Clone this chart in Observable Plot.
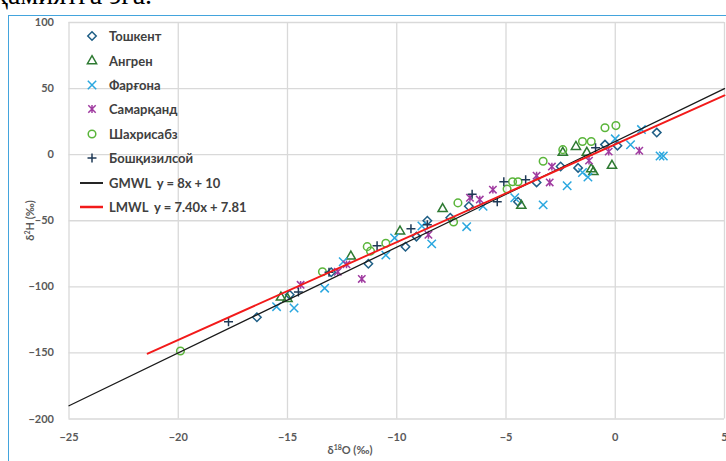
<!DOCTYPE html>
<html><head><meta charset="utf-8">
<script src="https://cdn.jsdelivr.net/npm/d3@7"></script>
<script src="https://cdn.jsdelivr.net/npm/@observablehq/plot@0.6"></script>
<style>
body{margin:0;width:726px;height:461px;overflow:hidden;position:relative;background:#fff;font-family:Lato,"Open Sans",sans-serif}
#doc{position:absolute;left:0;top:0;width:726px;height:11px;overflow:hidden}
#doc span{position:absolute;left:-6px;top:-21px;font:28px "Liberation Serif","DejaVu Serif",serif;color:#000;white-space:nowrap}
#frame{position:absolute;left:8px;top:15px;width:730px;height:460px;border-left:1.5px solid #43a4dd;border-top:1.5px solid #43a4dd}
#chart{position:absolute;left:0;top:0}
#legend{position:absolute;left:76px;top:24px}
.row{display:flex;align-items:center;height:24.4px}
.row svg{width:28px;height:20px;margin-right:5px;overflow:visible}
.row span{font-weight:700;font-size:13px;color:#404040;white-space:pre}
.xt{position:absolute;left:300px;width:100px;top:443px;text-align:center;font-weight:700;font-size:11px;color:#595959}
.yt{position:absolute;left:-21px;top:214px;width:100px;text-align:center;font-weight:700;font-size:11px;color:#595959;transform:rotate(-90deg);transform-origin:50% 50%}
sup{font-size:7px;vertical-align:4px}
</style></head>
<body>
<div id="doc"><span>ҳамиятга эга.</span></div>
<div id="chart"></div>
<div id="frame"></div>
<div id="legend"></div>
<div class="xt">δ<sup>18</sup>O (‰)</div>
<div class="yt">δ<sup>2</sup>H (‰)</div>
<script>
// ---- data (δ18O, δ2H) ----
const sites = ["Тошкент","Ангрен","Фарғона","Самарқанд","Шахрисабз","Бошқизилсой"];
const siteColors = ["#1f5f86","#2e7a32","#2aa7df","#a03ba0","#5ab53a","#1f3a57"];
const siteSymbolNames = ["diamond2","triangle2","times","star","circle","plus"];
const siteRadius = [3.8, 4.4, 3.9, 3.9, 3.8, 3.0];

const tashkent = [[-16.4,-123],[-14.9,-106],[-13.0,-89],[-11.3,-82.6],[-9.6,-69.7],[-9.1,-62],[-8.6,-50],[-7.55,-47.7],[-6.7,-39],[-4.45,-35.6],[-3.6,-21],[-2.5,-9],[-1.7,-10],[-0.47,7.6],[0.1,6.8],[1.9,16.7]];
const angren = [[-15.3,-108],[-15.0,-109],[-12.1,-77],[-9.85,-58],[-7.9,-41],[-4.3,-38.6],[-2.4,1.5],[-1.8,6],[-1.3,1.5],[-1.1,-11],[-1.0,-13],[-0.15,-8.3]];
const fargona = [[-15.5,-115],[-14.7,-116],[-13.3,-101],[-12.45,-81],[-10.5,-76],[-10.1,-63],[-8.85,-54],[-8.4,-67.5],[-6.8,-54.5],[-6.05,-39],[-4.6,-32.6],[-3.3,-38],[-2.2,-23.5],[-1.5,-13.5],[-1.25,-17],[0.0,12],[0.7,7.5],[1.2,19],[2.05,-1],[2.2,-1]];
const samarqand = [[-14.4,-98.5],[-12.7,-88.6],[-12.3,-83],[-11.6,-94],[-8.55,-60.6],[-6.65,-32.6],[-6.2,-34],[-5.6,-26.5],[-3.6,-15.9],[-3.0,-21],[-2.9,-9],[-1.2,-4.5],[-0.3,2.3],[1.1,3]];
const shahrisabz = [[-19.9,-148.5],[-13.4,-88.6],[-11.35,-69.6],[-11.2,-73],[-10.5,-67],[-7.4,-51],[-7.2,-36.5],[-4.95,-26],[-4.7,-20.5],[-4.45,-20.5],[-3.3,-5],[-2.4,3.8],[-1.5,10],[-1.1,10],[-0.47,20.4],[0.03,22]];
const boshqizilsoy = [[-17.7,-126.5],[-14.5,-104],[-13.1,-89],[-10.9,-69],[-9.35,-56],[-8.6,-53],[-6.55,-30],[-5.4,-35.6],[-5.1,-20.5],[-4.1,-19],[-0.9,5.3]];

// meteoric water lines: slope, intercept, x-range
const gmwl = {label:"GMWL  y = 8x + 10", slope:8, intercept:10, xRange:[-25,5], color:"#1a1a1a", width:1.3};
const lmwl = {label:"LMWL  y = 7.40x + 7.81", slope:7.40, intercept:7.81, xRange:[-21.4,5], color:"#f21a1a", width:1.9};

const xTicks = [-25,-20,-15,-10,-5,0,5];
const yTicks = [-200,-150,-100,-50,0,50,100];

// Excel-style "star" marker: an X with a vertical bar
const starSymbol = {
  draw(ctx, size) {
    const h = Math.sqrt(size / Math.PI) * 0.95;
    ctx.moveTo(-h, -h); ctx.lineTo(h, h);
    ctx.moveTo(-h, h); ctx.lineTo(h, -h);
    ctx.moveTo(0, -h * 1.05); ctx.lineTo(0, h * 1.05);
  }
};
const symMap = {diamond2: d3.symbolDiamond2, triangle2: d3.symbolTriangle2, times: d3.symbolTimes, star: starSymbol, circle: d3.symbolCircle, plus: d3.symbolPlus};

// ---- build tables ----
const seriesData = [tashkent, angren, fargona, samarqand, shahrisabz, boshqizilsoy];
const linePts = l => l.xRange.map(x => ({x, y: l.slope * x + l.intercept}));

const dotMarks = seriesData.map((arr, i) =>
  Plot.dot(arr.map(([x, y]) => ({x, y, site: sites[i]})), {
    x: "x", y: "y", symbol: symMap[siteSymbolNames[i]], stroke: siteColors[i],
    fill: "none", r: siteRadius[i], strokeWidth: 1.5
  })
);

const plot = Plot.plot({
  width: 726, height: 461,
  marginLeft: 68.5, marginRight: 2, marginTop: 22, marginBottom: 42.5,
  style: {fontFamily: "Lato, 'Open Sans', sans-serif", fontSize: "11px", fontWeight: 700, color: "#595959", background: "transparent"},
  x: {domain: [-25, 5], ticks: xTicks, label: null},
  y: {domain: [-200, 100], ticks: yTicks, label: null},
  marks: [
    Plot.gridX(xTicks, {stroke: "#d9d9d9", strokeOpacity: 1, strokeWidth: 1.3}),
    Plot.gridY(yTicks, {stroke: "#d9d9d9", strokeOpacity: 1, strokeWidth: 1.3}),
    Plot.axisX({ticks: xTicks, tickSize: 0, tickPadding: 14, label: null, fill: "#595959"}),
    Plot.axisY({ticks: yTicks, tickSize: 0, tickPadding: 15, label: null, fill: "#595959"}),
    ...dotMarks,
    Plot.line(linePts(gmwl), {x: "x", y: "y", stroke: gmwl.color, strokeWidth: gmwl.width}),
    Plot.line(linePts(lmwl), {x: "x", y: "y", stroke: lmwl.color, strokeWidth: lmwl.width})
  ]
});
document.getElementById("chart").append(plot);

// ---- legend ----
const leg = d3.select("#legend");
sites.forEach((s, i) => {
  const row = leg.append("div").attr("class", "row");
  const svg = row.append("svg");
  svg.append("path").attr("transform", "translate(16,10)")
    .attr("d", d3.symbol(symMap[siteSymbolNames[i]], Math.PI * siteRadius[i] * siteRadius[i])())
    .attr("fill", "none").attr("stroke", siteColors[i]).attr("stroke-width", 1.5);
  row.append("span").text(s);
});
[gmwl, lmwl].forEach(l => {
  const row = leg.append("div").attr("class", "row");
  const svg = row.append("svg");
  svg.append("line").attr("x1", 4).attr("x2", 27).attr("y1", 10).attr("y2", 10)
    .attr("stroke", l.color).attr("stroke-width", l.width + 0.6);
  row.append("span").text(l.label);
});
</script>
</body></html>
